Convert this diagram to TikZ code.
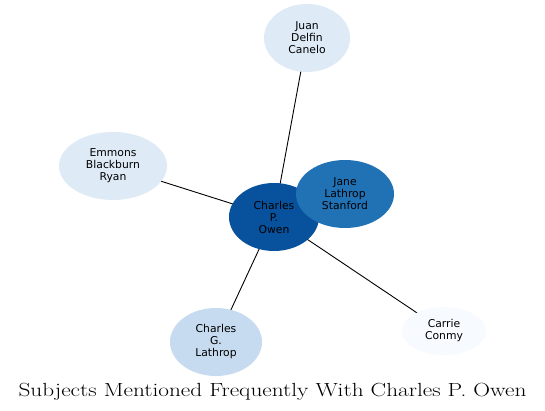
\documentclass[tikz,border=0pt]{standalone}
\usepackage{fontspec}
\newfontfamily\labelfont{DejaVu Sans}
\usetikzlibrary{backgrounds,shapes.geometric}
\definecolor{cdark}{HTML}{08519C}
\definecolor{cmid}{HTML}{2171B5}
\definecolor{clight}{HTML}{C6DBEF}
\definecolor{cpale}{HTML}{DEEBF7}
\definecolor{cwhite}{HTML}{F7FBFF}
\tikzset{
  subj/.style={ellipse, inner sep=0pt, align=center, font=\labelfont\fontsize{10.8}{12}\selectfont, text=black},
  link/.style={draw=black, line width=0.9pt}
}
\begin{document}
\begin{tikzpicture}[x=1pt,y=-1pt]
\useasboundingbox (0,0) rectangle (545,411);
\begin{scope}[on background layer]
\fill[white] (0,0) rectangle (545,411);
\end{scope}
\node[subj, fill=cpale, minimum width=86, minimum height=68] (juan) at (307,38) {Juan\\Delfin\\Canelo};
\node[subj, fill=cpale, minimum width=108, minimum height=68] (emmons) at (113,166) {Emmons\\Blackburn\\Ryan};
\node[subj, fill=cdark, minimum width=90, minimum height=68] (owen) at (274,217) {Charles\\P.\\Owen};
\node[subj, fill=cmid, minimum width=98, minimum height=68] (jane) at (345,194) {Jane\\Lathrop\\Stanford};
\node[subj, fill=cwhite, minimum width=84, minimum height=48] (carrie) at (444,331) {Carrie\\Conmy};
\node[subj, fill=clight, minimum width=92, minimum height=68] (lathrop) at (216,342) {Charles\\G.\\Lathrop};
\begin{scope}[on background layer]
\draw[link] (owen.center) -- (juan.center);
\draw[link] (owen.center) -- (emmons.center);
\draw[link] (owen.center) -- (lathrop.center);
\draw[link] (owen.center) -- (carrie.center);
\end{scope}
\node[font=\fontsize{19}{22}\selectfont, anchor=base, inner sep=0pt] (title) at (272.5,396) {\scalebox{1.225}[1]{Subjects Mentioned Frequently With Charles P. Owen}};
\end{tikzpicture}
\end{document}
